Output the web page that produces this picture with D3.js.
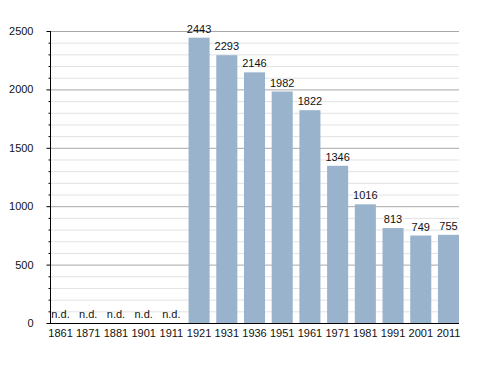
<!DOCTYPE html>
<html>
<head>
<meta charset="utf-8">
<script src="https://cdn.jsdelivr.net/npm/d3@7"></script>
<style>
  body { margin: 0; background: #fff; }
  text { font-family: "Liberation Sans", Arial, sans-serif; fill: #111; }
</style>
</head>
<body>
<script>
// Data
var years = ["1861", "1871", "1881", "1901", "1911", "1921", "1931", "1936", "1951", "1961", "1971", "1981", "1991", "2001", "2011"];
var population = [null, null, null, null, null, 2443, 2293, 2146, 1982, 1822, 1346, 1016, 813, 749, 755];
var yTicks = [0, 500, 1000, 1500, 2000, 2500];

var svgWidth = 488, svgHeight = 373;
var plotLeft = 50, plotRight = 459, plotTop = 31, plotBottom = 323;

var svg = d3.select("body").append("svg")
    .attr("width", svgWidth)
    .attr("height", svgHeight);

var x = d3.scaleBand()
    .domain(years)
    .range([plotLeft, plotRight])
    .paddingInner(0.24)
    .paddingOuter(0);

var y = d3.scaleLinear()
    .domain([0, 2500])
    .range([plotBottom, plotTop]);

var minorVals = d3.range(100, 2600, 100).filter(d => d % 500 !== 0);

// minor grid lines
svg.append("g").selectAll("line")
    .data(minorVals)
    .enter().append("line")
    .attr("x1", plotLeft).attr("x2", plotRight)
    .attr("y1", d => y(d) + 0.5).attr("y2", d => y(d) + 0.5)
    .attr("stroke", "#e2e2e2");

// major grid lines
svg.append("g").selectAll("line")
    .data(yTicks.slice(1))
    .enter().append("line")
    .attr("x1", plotLeft).attr("x2", plotRight)
    .attr("y1", d => y(d) + 0.5).attr("y2", d => y(d) + 0.5)
    .attr("stroke", "#a8a8a8");

var rows = years.map((d, i) => ({ year: d, value: population[i] }));

// bars
svg.append("g").selectAll("rect")
    .data(rows.filter(d => d.value !== null))
    .enter().append("rect")
    .attr("x", d => x(d.year))
    .attr("y", d => y(d.value))
    .attr("width", x.bandwidth())
    .attr("height", d => y(0) - y(d.value))
    .attr("fill", "#9ab3cd");

// value labels
svg.append("g").selectAll("text")
    .data(rows)
    .enter().append("text")
    .attr("x", d => x(d.year) + x.bandwidth() / 2)
    .attr("y", d => d.value === null ? y(0) - 5 : y(d.value) - 5)
    .attr("text-anchor", "middle")
    .attr("font-size", "11px")
    .text(d => d.value === null ? "n.d." : d.value);

// y axis with minor ticks
var leftAxis = d3.axisLeft(y).tickValues(yTicks).tickFormat(d3.format("d")).tickSize(4).tickPadding(13);
var gy = svg.append("g")
    .attr("transform", `translate(${plotLeft + 0.5},0)`)
    .call(leftAxis);
gy.select(".domain").attr("d", `M0,${plotTop}V${plotBottom}`).attr("stroke", "#000");
gy.selectAll("text").attr("font-size", "11px").attr("font-family", "Liberation Sans, Arial, sans-serif").attr("fill", "#111");
gy.selectAll(".minor").data(minorVals)
    .enter().append("line")
    .attr("class", "minor")
    .attr("x1", -2).attr("x2", 0)
    .attr("y1", d => y(d) + 0.5).attr("y2", d => y(d) + 0.5)
    .attr("stroke", "#000");

// x axis
var bottomAxis = d3.axisBottom(x).tickSize(0).tickPadding(6);
var gx = svg.append("g")
    .attr("transform", `translate(0,${plotBottom + 0.5})`)
    .call(bottomAxis);
gx.select(".domain").attr("d", `M${plotLeft},0H${plotRight}`).attr("stroke", "#000");
gx.selectAll("text").attr("font-size", "11px").attr("font-family", "Liberation Sans, Arial, sans-serif").attr("fill", "#111");
</script>
</body>
</html>
